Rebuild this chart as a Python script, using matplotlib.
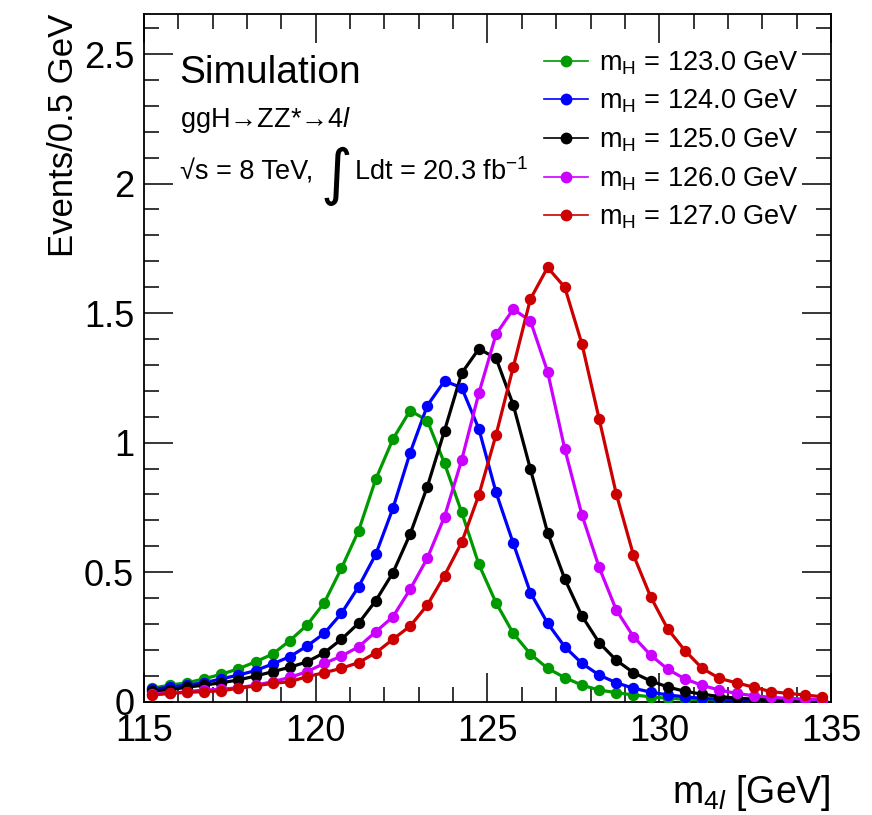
"""ggH -> ZZ* -> 4l signal shapes for several Higgs mass hypotheses."""

import matplotlib

matplotlib.use("Agg")
import matplotlib.pyplot as plt
import matplotlib.ticker as mticker
import numpy as np

plt.rcParams["font.family"] = ["Liberation Sans", "DejaVu Sans"]
plt.rcParams["mathtext.fontset"] = "custom"
plt.rcParams["mathtext.rm"] = "Liberation Sans"
plt.rcParams["mathtext.it"] = "Liberation Sans:italic"
plt.rcParams["mathtext.bf"] = "Liberation Sans:bold"

# bin centres, 0.5 GeV bins from 115 to 135
m4l = np.arange(115.25, 135.0, 0.5)

mh_labels = ["123.0", "124.0", "125.0", "126.0", "127.0"]
colors = ["#009900", "#0000ff", "#000000", "#cc00ff", "#cc0000"]

events_123 = [
    0.052, 0.064, 0.073, 0.088, 0.106, 0.127, 0.154, 0.184, 0.236, 0.296,
    0.382, 0.515, 0.660, 0.859, 1.014, 1.124, 1.085, 0.920, 0.731, 0.530,
    0.382, 0.264, 0.184, 0.129, 0.093, 0.064, 0.045, 0.035, 0.026, 0.019,
    0.013, 0.010, 0.008, 0.006, 0.005, 0.004, 0.003, 0.003, 0.002, 0.002,
]
events_124 = [
    0.048, 0.056, 0.064, 0.073, 0.088, 0.103, 0.120, 0.146, 0.174, 0.215,
    0.264, 0.341, 0.444, 0.569, 0.747, 0.961, 1.143, 1.238, 1.212, 1.053,
    0.808, 0.612, 0.421, 0.303, 0.212, 0.148, 0.103, 0.073, 0.052, 0.037,
    0.026, 0.019, 0.013, 0.010, 0.008, 0.006, 0.005, 0.004, 0.003, 0.003,
]
events_125 = [
    0.042, 0.046, 0.056, 0.064, 0.073, 0.084, 0.099, 0.116, 0.133, 0.154,
    0.189, 0.241, 0.303, 0.390, 0.498, 0.647, 0.830, 1.046, 1.268, 1.362,
    1.326, 1.146, 0.898, 0.653, 0.474, 0.331, 0.228, 0.160, 0.112, 0.080,
    0.057, 0.040, 0.029, 0.020, 0.014, 0.010, 0.008, 0.006, 0.005, 0.004,
]
events_126 = [
    0.030, 0.032, 0.039, 0.045, 0.048, 0.054, 0.064, 0.077, 0.094, 0.116,
    0.148, 0.176, 0.212, 0.270, 0.328, 0.434, 0.554, 0.714, 0.933, 1.191,
    1.418, 1.515, 1.470, 1.274, 0.976, 0.721, 0.519, 0.354, 0.251, 0.180,
    0.125, 0.088, 0.063, 0.045, 0.032, 0.023, 0.017, 0.013, 0.010, 0.008,
]
events_127 = [
    0.026, 0.032, 0.036, 0.039, 0.042, 0.052, 0.061, 0.071, 0.077, 0.097,
    0.112, 0.129, 0.151, 0.189, 0.241, 0.292, 0.373, 0.487, 0.615, 0.798,
    1.030, 1.291, 1.554, 1.676, 1.600, 1.381, 1.092, 0.802, 0.566, 0.405,
    0.280, 0.197, 0.129, 0.090, 0.073, 0.056, 0.039, 0.032, 0.026, 0.019,
]
series = [events_123, events_124, events_125, events_126, events_127]

fig = plt.figure(figsize=(8.72, 8.15), dpi=100)
ax = fig.add_axes([0.165, 0.139, 0.788, 0.844])

handles = []
for vals, col in zip(series, colors):
    ax.plot(m4l, vals, color=col, linewidth=2.3, zorder=2)
    ax.plot(m4l, vals, linestyle="none", marker="o", markersize=8.2,
            color=col, markeredgewidth=0, zorder=3)
    handles.append(
        ax.plot([], [], color=col, linewidth=1.2, marker="o", markersize=8.5,
                markeredgewidth=0)[0]
    )

ax.set_xlim(115, 135)
ax.set_ylim(0, 2.655)

ax.xaxis.set_major_locator(mticker.MultipleLocator(5))
ax.xaxis.set_minor_locator(mticker.MultipleLocator(1))
ax.yaxis.set_major_locator(mticker.MultipleLocator(0.5))
ax.yaxis.set_minor_locator(mticker.MultipleLocator(0.1))
ax.yaxis.set_major_formatter(mticker.FuncFormatter(lambda v, _: f"{v:g}"))
ax.tick_params(which="both", direction="in", top=True, right=True,
               labelsize=26, width=1.1, color="black")
ax.tick_params(which="major", length=21)
ax.tick_params(axis="x", which="major", pad=9)
ax.tick_params(axis="y", which="major", pad=7)
ax.tick_params(which="minor", length=10.5)
for sp in ax.spines.values():
    sp.set_linewidth(1.3)

ax.set_ylabel("Events/0.5 GeV", fontsize=25, loc="top", labelpad=3)
ax.set_xlabel(r"m$_{4\mathit{l}}$ [GeV]", fontsize=27, loc="right", labelpad=17)

ax.text(0.052, 0.914, "Simulation", transform=ax.transAxes, fontsize=28,
        va="center", ha="left")
ax.text(0.052, 0.846, "ggH→ZZ*→4" + r"$\mathit{l}$",
        transform=ax.transAxes, fontsize=19.5, va="center", ha="left")
lumi_a = ax.text(0.052, 0.770, "√s = 8 TeV, ", transform=ax.transAxes,
                 fontsize=19.5, va="center", ha="left")
lumi_int = ax.annotate("∫", xy=(1, 0.5), xycoords=lumi_a, xytext=(0, -3),
                       textcoords="offset points", fontsize=44, va="center",
                       ha="left", family="DejaVu Sans")
ax.annotate(r"Ldt = 20.3 fb$^{\mathregular{-1}}$", xy=(1, 0.5),
            xycoords=lumi_int, xytext=(1, 3), textcoords="offset points",
            fontsize=19.5, va="center", ha="left")

ax.legend(
    handles,
    [rf"m$_{{\mathrm{{H}}}}$ = {m} GeV" for m in mh_labels],
    loc="upper right", bbox_to_anchor=(0.977, 0.972), frameon=False,
    fontsize=19.5, handlelength=1.65, handletextpad=0.4, labelspacing=0.41,
    borderaxespad=0.2,
)

fig.savefig("out.png", dpi=100)
